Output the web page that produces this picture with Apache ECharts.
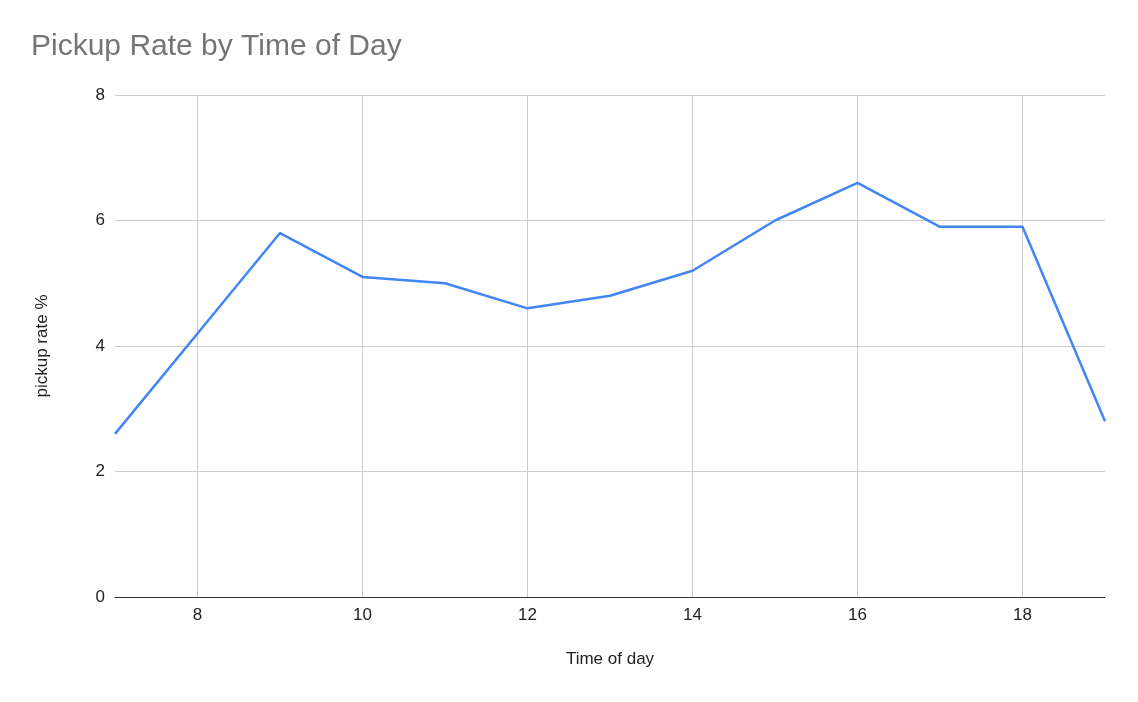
<!DOCTYPE html>
<html>
<head>
<meta charset="utf-8">
<title>Pickup Rate by Time of Day</title>
<script src="https://cdn.jsdelivr.net/npm/echarts@6/dist/echarts.min.js"></script>
<style>
  html, body { margin: 0; padding: 0; background: #fff; }
  #main { width: 1138px; height: 702px; }
</style>
</head>
<body>
<div id="main"></div>
<script>
// hour of day (x) and pickup rate in % (y)
const hours = ['7', '8', '9', '10', '11', '12', '13', '14', '15', '16', '17', '18', '19'];
const pickupRate = [2.6, 4.2, 5.8, 5.1, 5.0, 4.6, 4.8, 5.2, 6.0, 6.6, 5.9, 5.9, 2.8];
const yTicks = [0, 2, 4, 6, 8];

const font = 'Arial, "Liberation Sans", sans-serif';
// only even hours get a label and a grid line
const evenHour = (i, v) => Number(hours[i]) % 2 === 0;

const chart = echarts.init(document.getElementById('main'));
chart.setOption({
  animation: false,
  title: {
    text: 'Pickup Rate by Time of Day',
    left: 26,
    top: 27,
    textStyle: { fontFamily: font, fontSize: 30, fontWeight: 'normal', color: '#757575' }
  },
  grid: { left: 115, right: 33, top: 95, bottom: 105, containLabel: false },
  xAxis: {
    type: 'category',
    data: hours,
    boundaryGap: false,
    name: 'Time of day',
    nameLocation: 'middle',
    nameGap: 54,
    nameTextStyle: { fontFamily: font, fontSize: 17, color: '#222' },
    axisLine: { lineStyle: { color: '#333', width: 1 } },
    axisTick: { show: false },
    axisLabel: { interval: evenHour, margin: 10, fontFamily: font, fontSize: 17, color: '#222' },
    splitLine: { show: true, interval: evenHour, lineStyle: { color: '#ccc', width: 1 } }
  },
  yAxis: {
    type: 'value',
    min: yTicks[0],
    max: yTicks[yTicks.length - 1],
    interval: yTicks[1] - yTicks[0],
    name: 'pickup rate %',
    nameLocation: 'middle',
    nameGap: 64,
    nameRotate: 90,
    nameTextStyle: { fontFamily: font, fontSize: 17, color: '#222' },
    axisLine: { show: false },
    axisTick: { show: false },
    axisLabel: { margin: 10, fontFamily: font, fontSize: 17, color: '#222' },
    splitLine: { lineStyle: { color: '#ccc', width: 1 } }
  },
  series: [{
    type: 'line',
    data: pickupRate,
    showSymbol: false,
    lineStyle: { color: '#4285F4', width: 2.5 },
    itemStyle: { color: '#4285F4' }
  }]
});
</script>
</body>
</html>
